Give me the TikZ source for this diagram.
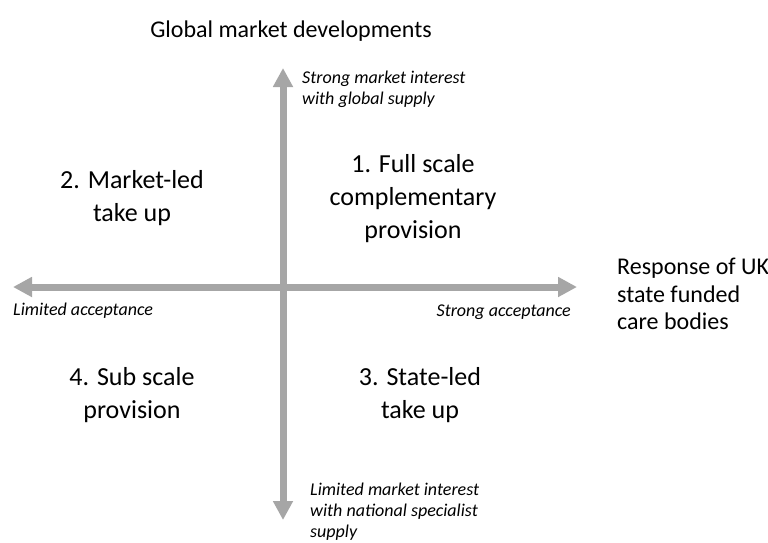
\documentclass[tikz,border=0pt]{standalone}
\usepackage{fontspec}
\setmainfont{Carlito}
\usetikzlibrary{arrows.meta}
\definecolor{axisgray}{HTML}{A6A6A6}
\begin{document}
\begin{tikzpicture}[x=1pt,y=-1pt,
  axis/.style={draw=axisgray,line width=7pt,-{Triangle[width=19pt,length=19pt]}},
  quad/.style={font=\fontsize{26}{33}\selectfont,align=center,inner sep=0pt},
  small/.style={font=\fontsize{18}{21}\selectfont\itshape,align=left,inner sep=0pt},
  title/.style={font=\fontsize{24}{27.5}\selectfont,align=left,inner sep=0pt}]
\useasboundingbox (0,0) rectangle (768,542);
\coordinate (c) at (283,287);
\coordinate (top) at (283,68);
\coordinate (bot) at (283,520);
\coordinate (left) at (13,287);
\coordinate (right) at (577,287);
\draw[axis] (c) -- (top);
\draw[axis] (c) -- (bot);
\draw[axis] (c) -- (left);
\draw[axis] (c) -- (right);
\node[title,anchor=base] (gmd) at (291,37) {Global market developments};
\node[small,anchor=west] (smi) at (302,89.5) {Strong market interest\\with global supply};
\node[quad] (q2) at (132,198.5) {2. Market-led\\take up};
\node[quad] (q1) at (413,198.5) {1. Full scale\\complementary\\provision};
\node[title,anchor=west] (resp) at (617,294) {Response of UK\\state funded\\care bodies};
\node[small,anchor=base west] (la) at (13,315) {Limited acceptance};
\node[small,anchor=base east] (sa) at (571,316) {Strong acceptance};
\node[quad] (q4) at (132,395) {4. Sub scale\\provision};
\node[quad] (q3) at (420,395) {3. State-led\\take up};
\node[small,anchor=west] (lmi) at (310,511.5) {Limited market interest\\with national specialist\\supply};
\end{tikzpicture}
\end{document}
